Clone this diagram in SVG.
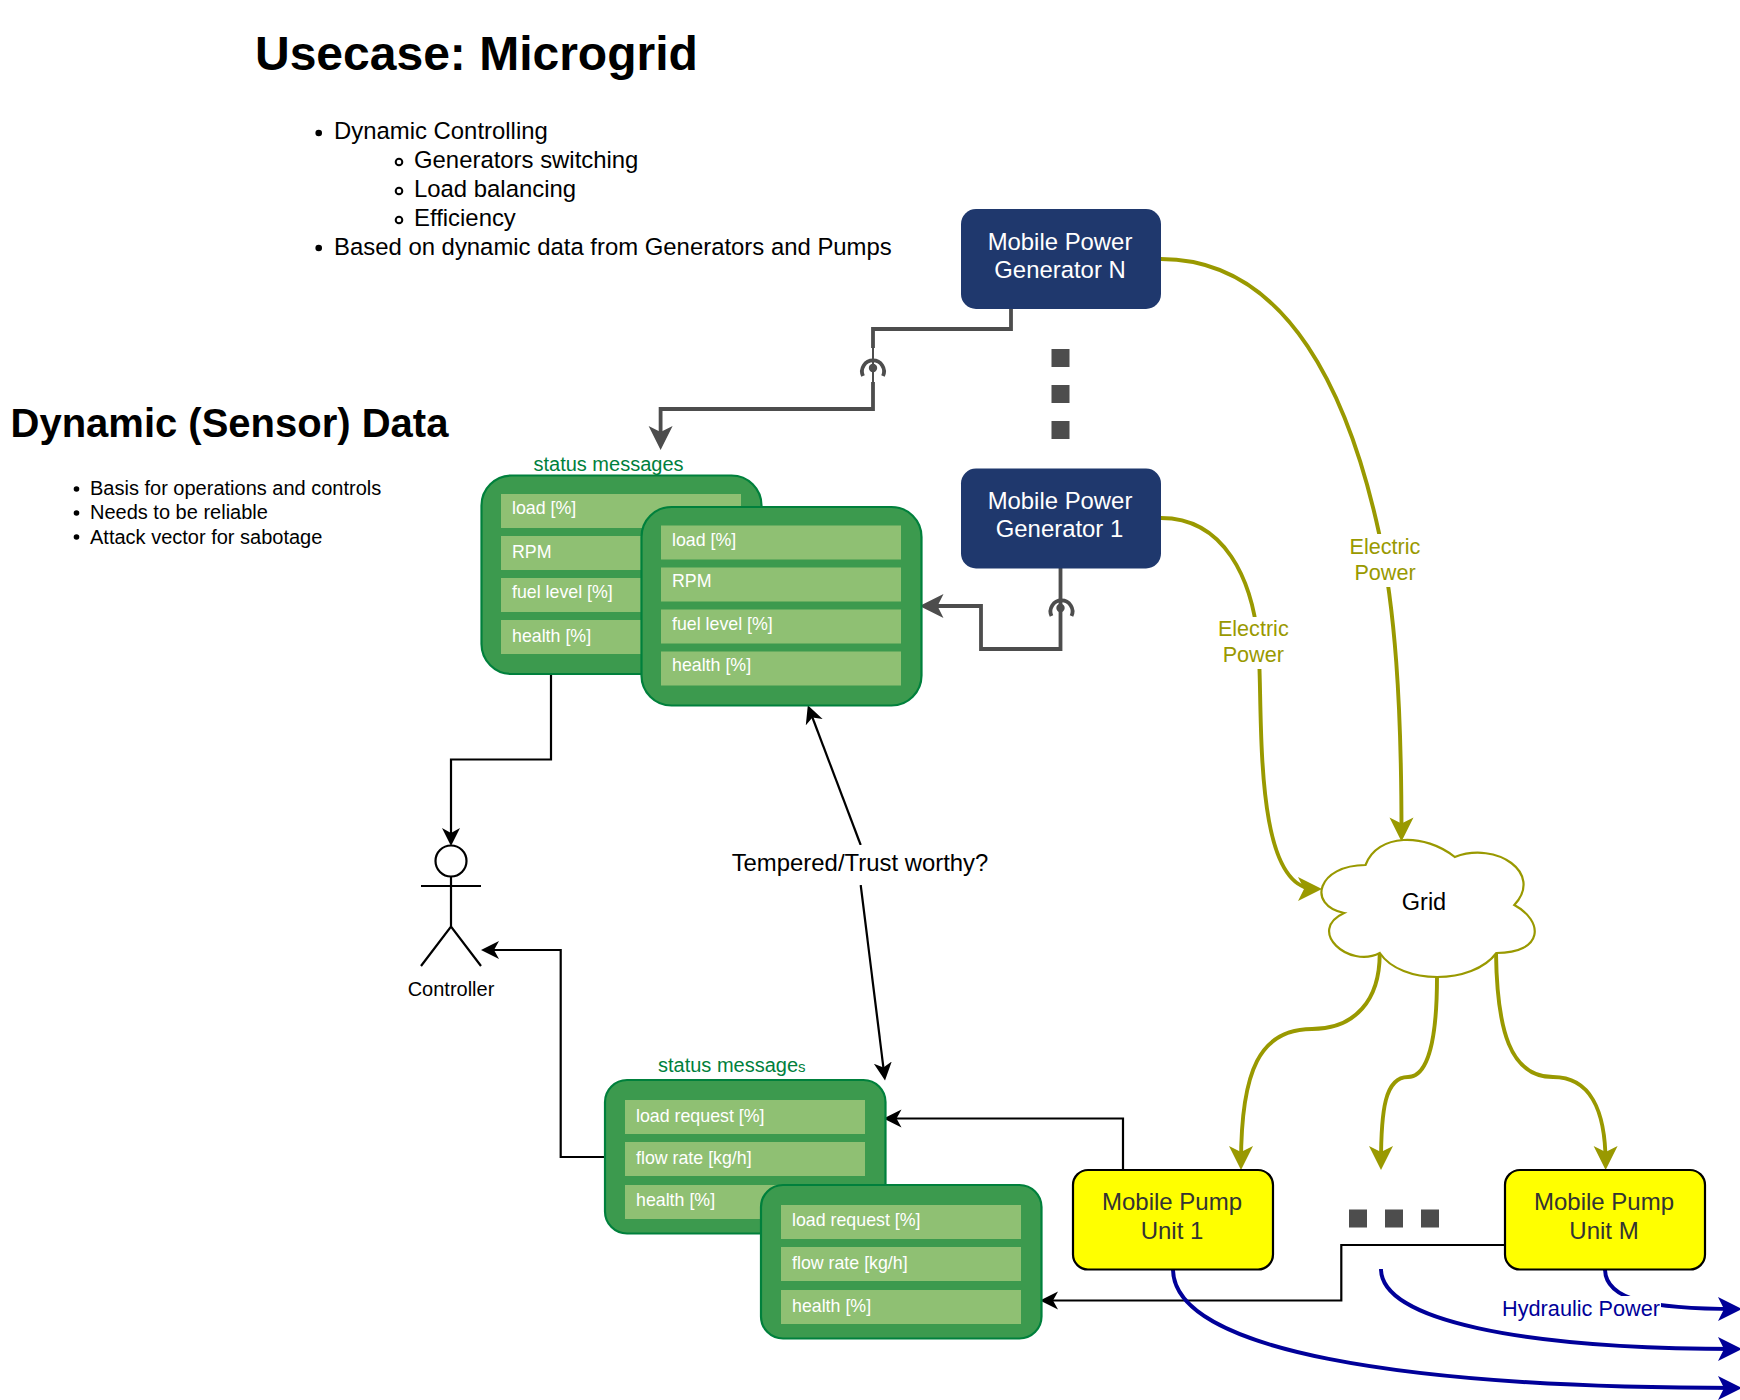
<svg xmlns="http://www.w3.org/2000/svg" width="1740" height="1400" viewBox="0 0 1740 1400">
<style>
text{font-family:"Liberation Sans",Arial,sans-serif;fill:#000}
.title{font-weight:bold;font-size:48px}
.h2{font-weight:bold;font-size:40px}
.li{font-size:23.9px}
.li2{font-size:20px}
.box{fill:#3c9a4e;stroke:#00803c;stroke-width:2.2}
.row{fill:#8fc073}
.rt{font-size:17.8px;fill:#fff}
.st{font-size:20px;fill:#00803c}
.gen{fill:#1f386d}
.gt{font-size:23.9px;fill:#fff;text-anchor:middle}
.pump{fill:#ffff00;stroke:#000;stroke-width:2.2}
.pt{font-size:24px;fill:#333;text-anchor:middle}
.dot{fill:#4d4d4d}
.ol{font-size:21.6px;fill:#999900;text-anchor:middle}
.k{fill:none;stroke:#000;stroke-width:2.2}
.g{fill:none;stroke:#4d4d4d;stroke-width:3.8}
.o{fill:none;stroke:#999900;stroke-width:3.9}
.b{fill:none;stroke:#000099;stroke-width:3.9}
</style>
<defs>
<marker id="ak" markerUnits="userSpaceOnUse" markerWidth="20" markerHeight="20" viewBox="0 0 20 20" refX="13" refY="10" orient="auto"><path d="M0,1 L18,10 L0,19 L5,10 Z" fill="#000"/></marker>
<marker id="ag" markerUnits="userSpaceOnUse" markerWidth="26" markerHeight="26" viewBox="0 0 26 26" refX="18" refY="13" orient="auto"><path d="M1,1 L25,13 L1,25 L7,13 Z" fill="#4d4d4d"/></marker>
<marker id="ao" markerUnits="userSpaceOnUse" markerWidth="26" markerHeight="26" viewBox="0 0 26 26" refX="18" refY="13" orient="auto"><path d="M1,1 L25,13 L1,25 L7,13 Z" fill="#999900"/></marker>
<marker id="ab" markerUnits="userSpaceOnUse" markerWidth="26" markerHeight="26" viewBox="0 0 26 26" refX="20" refY="13" orient="auto"><path d="M1,1 L25,13 L1,25 L7,13 Z" fill="#000099"/></marker>
</defs>

<g id="title-usecase"><text class="title" x="255" y="70">Usecase: Microgrid</text>
<circle cx="318.7" cy="133" r="3.3"/><text class="li" x="334" y="139">Dynamic Controlling</text>
<circle cx="399" cy="162" r="3.3" fill="none" stroke="#000" stroke-width="2"/><text class="li" x="414" y="168">Generators switching</text>
<circle cx="399" cy="191" r="3.3" fill="none" stroke="#000" stroke-width="2"/><text class="li" x="414" y="197">Load balancing</text>
<circle cx="399" cy="220" r="3.3" fill="none" stroke="#000" stroke-width="2"/><text class="li" x="414" y="226">Efficiency</text>
<circle cx="318.7" cy="248" r="3.3"/><text class="li" x="334" y="255">Based on dynamic data from Generators and Pumps</text></g>

<g id="title-sensor"><text class="h2" x="10.5" y="437">Dynamic (Sensor) Data</text>
<circle cx="76.5" cy="489" r="2.8"/><text class="li2" x="90" y="495">Basis for operations and controls</text>
<circle cx="76.5" cy="513" r="2.8"/><text class="li2" x="90" y="519">Needs to be reliable</text>
<circle cx="76.5" cy="537" r="2.8"/><text class="li2" x="90" y="543.5">Attack vector for sabotage</text></g>

<g id="connectors">
<path class="k" d="M551 674 V759.5 H451 V841" marker-end="url(#ak)"/>
<path class="k" d="M604.5 1157 H560.7 V950 H486" marker-end="url(#ak)"/>
<path class="k" d="M860.7 845 L809.6 710" marker-end="url(#ak)"/>
<path class="k" d="M860.7 885 L884.4 1075.5" marker-end="url(#ak)"/>
<path class="k" d="M1123 1170 V1118.5 H888.5" marker-end="url(#ak)"/>
<path class="k" d="M1504.7 1245 H1341.3 V1300.5 H1045" marker-end="url(#ak)"/>
<path class="g" d="M1011 309 V329 H873 V348"/>
<path d="M873 348 V382" fill="none" stroke="#4d4d4d" stroke-width="2"/>
<path class="g" d="M873 382 V409 H660.6 V443" marker-end="url(#ag)"/>
<path class="g" d="M1060.5 568 V649 H981 V606 H926.5" marker-end="url(#ag)"/>
<path class="o" d="M1161 259 C1290 259 1350 400 1379 533 C1395 610 1401.5 700 1401.5 834.5" marker-end="url(#ao)"/>
<path class="o" d="M1161 518 C1225 518 1252 580 1258 640 C1264 700 1250 889 1315 889" marker-end="url(#ao)"/>
<path class="o" d="M1379.7 953 C1380 1000 1355 1029 1312 1029 C1260 1029 1241 1070 1241 1163" marker-end="url(#ao)"/>
<path class="o" d="M1437 977 C1437 1040 1428 1077 1408 1077 C1385 1077 1381 1110 1381 1163" marker-end="url(#ao)"/>
<path class="o" d="M1496 953 C1497 1030 1510 1077 1553 1077 C1590 1077 1605.6 1110 1605.6 1163" marker-end="url(#ao)"/>
<path class="b" d="M1173 1269 C1173 1350 1400 1388 1737 1388" marker-end="url(#ab)"/>
<path class="b" d="M1381 1269 C1381 1320 1520 1349 1737 1349" marker-end="url(#ab)"/>
<path class="b" d="M1605 1269 C1605 1300 1650 1309 1737 1309" marker-end="url(#ab)"/>
<g id="antenna-n" fill="none" stroke="#4d4d4d" stroke-width="3.8"><path d="M863 376 A11 11 0 1 1 883 376"/><circle cx="873" cy="368" r="4.2" fill="#4d4d4d" stroke="none"/></g>
<g id="antenna-1" fill="none" stroke="#4d4d4d" stroke-width="3.8"><path d="M1051.5 616 A11 11 0 1 1 1071.5 616"/><circle cx="1060.5" cy="608" r="4.2" fill="#4d4d4d" stroke="none"/></g>
<g id="label-electric-1"><rect x="1215" y="617" width="76" height="52" fill="#fff"/><text class="ol" x="1253.3" y="636">Electric</text><text class="ol" x="1253.3" y="662">Power</text></g>
<g id="label-electric-n"><rect x="1347" y="534" width="76" height="53" fill="#fff"/><text class="ol" x="1385" y="554">Electric</text><text class="ol" x="1385" y="580">Power</text></g>
<g id="label-hydraulic"><rect x="1502" y="1296" width="159" height="26" fill="#fff"/><text x="1581" y="1315.5" font-size="21.7" text-anchor="middle" style="fill:#000099">Hydraulic Power</text></g>
<g id="label-trust"><rect x="728" y="845" width="265" height="40" fill="#fff"/><text x="860" y="870.5" font-size="23.9" text-anchor="middle">Tempered/Trust worthy?</text></g>
</g>

<g id="dots-v"><rect class="dot" x="1051.5" y="349" width="18" height="18"/><rect class="dot" x="1051.5" y="385" width="18" height="18"/><rect class="dot" x="1051.5" y="421" width="18" height="18"/></g>
<g id="dots-h"><rect class="dot" x="1349" y="1209.5" width="18" height="18"/><rect class="dot" x="1385" y="1209.5" width="18" height="18"/><rect class="dot" x="1421" y="1209.5" width="18" height="18"/></g>

<g id="gen-n"><rect class="gen" x="961" y="209" width="200" height="100" rx="15"/><text class="gt" x="1060" y="250">Mobile Power</text><text class="gt" x="1060" y="278">Generator N</text></g>
<g id="gen-1"><rect class="gen" x="961" y="468.5" width="200" height="100" rx="15"/><text class="gt" x="1060" y="508.5">Mobile Power</text><text class="gt" x="1059.5" y="537">Generator 1</text></g>

<g id="status-gen-back"><text class="st" x="608.5" y="470.7" text-anchor="middle">status messages</text>
<rect class="box" x="481.5" y="475.5" width="280" height="198.5" rx="30"/>
<rect class="row" x="501" y="494" width="240" height="34"/><text class="rt" x="512" y="514">load [%]</text>
<rect class="row" x="501" y="536" width="240" height="34"/><text class="rt" x="512" y="558">RPM</text>
<rect class="row" x="501" y="578" width="240" height="34"/><text class="rt" x="512" y="598">fuel level [%]</text>
<rect class="row" x="501" y="620" width="240" height="34"/><text class="rt" x="512" y="642">health [%]</text></g>
<g id="status-gen-front"><rect class="box" x="641.5" y="507" width="280" height="198.5" rx="30"/>
<rect class="row" x="661" y="525.5" width="240" height="34"/><text class="rt" x="672" y="546">load [%]</text>
<rect class="row" x="661" y="567.5" width="240" height="34"/><text class="rt" x="672" y="587">RPM</text>
<rect class="row" x="661" y="609.5" width="240" height="34"/><text class="rt" x="672" y="630">fuel level [%]</text>
<rect class="row" x="661" y="651.5" width="240" height="34"/><text class="rt" x="672" y="671">health [%]</text></g>

<g id="controller"><circle cx="451" cy="861" r="15.5" fill="#fff" stroke="#000" stroke-width="2.2"/><path class="k" d="M451 876.5 V926.5 M421 886 H481 M421 966 L451 926.5 L481 966"/><text x="451" y="995.5" font-size="20" text-anchor="middle">Controller</text></g>

<g id="status-pump-back"><text class="st" x="658" y="1071.5">status message<tspan font-size="15">s</tspan></text>
<rect class="box" x="605" y="1080" width="280.5" height="153.5" rx="22"/>
<rect class="row" x="625" y="1100" width="240" height="34"/><text class="rt" x="636" y="1122">load request [%]</text>
<rect class="row" x="625" y="1142" width="240" height="34"/><text class="rt" x="636" y="1164">flow rate [kg/h]</text>
<rect class="row" x="625" y="1185" width="240" height="34"/><text class="rt" x="636" y="1206">health [%]</text></g>
<g id="status-pump-front"><rect class="box" x="761" y="1185" width="280.5" height="153.5" rx="22"/>
<rect class="row" x="781" y="1205" width="240" height="34"/><text class="rt" x="792" y="1226">load request [%]</text>
<rect class="row" x="781" y="1247" width="240" height="34"/><text class="rt" x="792" y="1268.5">flow rate [kg/h]</text>
<rect class="row" x="781" y="1290" width="240" height="34"/><text class="rt" x="792" y="1312">health [%]</text></g>

<g id="grid"><path d="M1365.5 865 C1317.9 865 1306 905 1344.1 913 C1306 930.6 1348.8 969 1379.8 953 C1401.2 985 1472.6 985 1496.4 953 C1544 953 1544 921 1514.3 905 C1544 873 1496.4 841 1454.8 857 C1425 833 1377.4 833 1365.5 865 Z" fill="#fff" stroke="#999900" stroke-width="2.2"/><text x="1424" y="910" font-size="23.5" text-anchor="middle">Grid</text></g>

<g id="pump-1"><rect class="pump" x="1073" y="1170" width="200" height="99.5" rx="15"/><text class="pt" x="1172" y="1209.5">Mobile Pump</text><text class="pt" x="1172" y="1238.5">Unit 1</text></g>
<g id="pump-m"><rect class="pump" x="1505" y="1170" width="200" height="99.5" rx="15"/><text class="pt" x="1604" y="1209.5">Mobile Pump</text><text class="pt" x="1604" y="1238.5">Unit M</text></g>
</svg>
